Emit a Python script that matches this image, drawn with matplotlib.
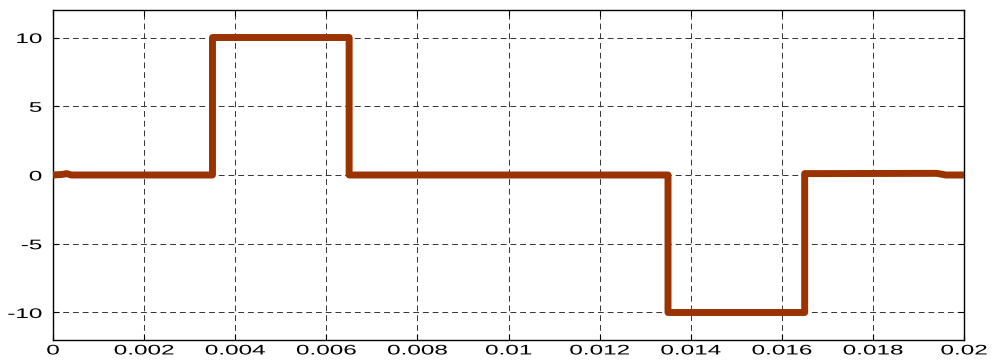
import matplotlib
matplotlib.use("Agg")
import matplotlib.pyplot as plt
from matplotlib.patheffects import AbstractPathEffect
from matplotlib.transforms import Affine2D

# pulse waveform (time in s, amplitude)
t = [0, 0.0002, 0.0003, 0.0004, 0.0035, 0.0035, 0.0065, 0.0065,
     0.0135, 0.0135, 0.0165, 0.0165, 0.0194, 0.0196, 0.02]
v = [0, 0.04, 0.1, 0, 0, 10, 10, 0,
     0, -10, -10, 0.1, 0.12, 0, 0]

xticks = [0, 0.002, 0.004, 0.006, 0.008, 0.01, 0.012, 0.014, 0.016, 0.018, 0.02]
xticklabels = ['0', '0.002', '0.004', '0.006', '0.008', '0.01', '0.012',
               '0.014', '0.016', '0.018', '0.02']
yticks = [-10, -5, 0, 5, 10]
yticklabels = ['-10', '-5', '0', '5', '10']


class Widen(AbstractPathEffect):
    """Stretch glyphs horizontally about an anchor of the text ink."""

    def __init__(self, sx, anchor='center'):
        super().__init__()
        self.sx = sx
        self.anchor = anchor

    def draw_path(self, renderer, gc, tpath, affine, rgbFace=None):
        if len(tpath.vertices) == 0:
            return
        ext = tpath.get_extents()
        x0 = {'left': ext.x0, 'center': (ext.x0 + ext.x1) / 2,
              'right': ext.x1}[self.anchor]
        tr = Affine2D().translate(-x0, 0).scale(self.sx, 1).translate(x0, 0) + affine
        renderer.draw_path(gc, tpath, tr, rgbFace)


plt.rcParams['font.family'] = ['Liberation Sans', 'DejaVu Sans']

fig = plt.figure(figsize=(9.97, 3.6), dpi=100)
ax = fig.add_axes([0.0532, 0.0556, 0.9138, 0.9166])

ax.plot(t, v, color='#9a3300', linewidth=5.0, solid_joinstyle='round',
        solid_capstyle='butt', zorder=3)

ax.set_xlim(0, 0.02)
ax.set_ylim(-12, 12)
ax.set_xticks(xticks)
ax.set_xticklabels(xticklabels)
ax.set_yticks(yticks)
ax.set_yticklabels(yticklabels)

ax.grid(True, color='#333333', linewidth=0.7, linestyle=(0, (6, 4)))
ax.tick_params(direction='in', length=4, width=0.8, top=True, right=True,
               labelsize=10, colors='k')
ax.tick_params(axis='x', pad=2.5)
ax.tick_params(axis='y', pad=8)
for s in ax.spines.values():
    s.set_linewidth(1.0)
    s.set_color('k')

for lab in ax.get_xticklabels():
    lab.set_path_effects([Widen(1.75, 'center')])
for lab in ax.get_yticklabels():
    lab.set_path_effects([Widen(1.75, 'right')])

fig.savefig('out.png', dpi=100, facecolor='white')
